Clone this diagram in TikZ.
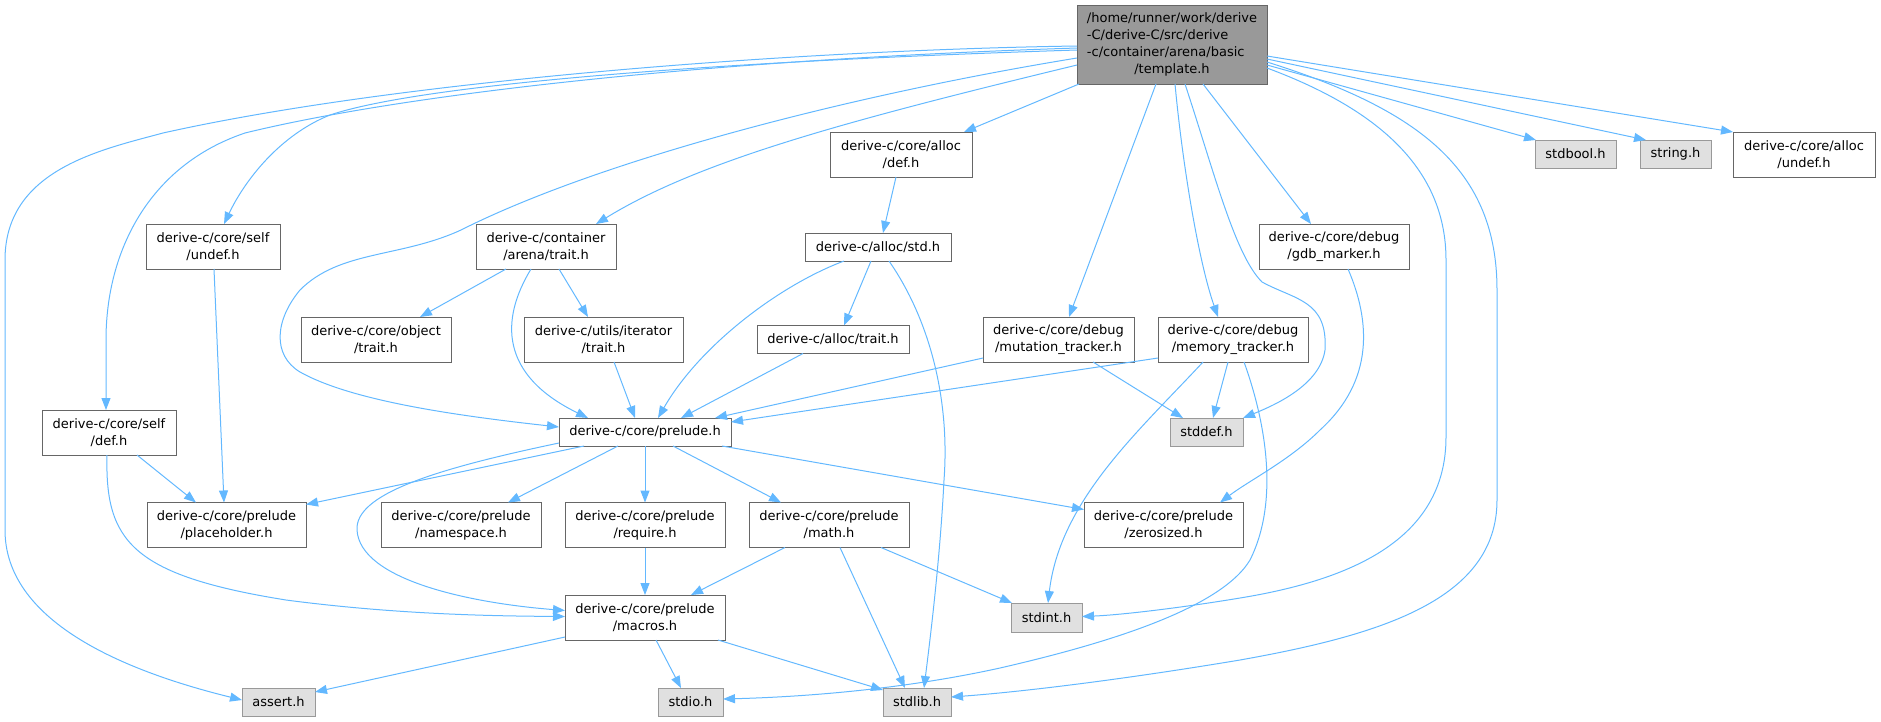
\documentclass[tikz,border=0pt]{standalone}
\usepackage{fontspec}
\setmainfont{DejaVu Sans}
\usetikzlibrary{arrows.meta,calc}
\definecolor{edgec}{HTML}{63B8FF}
\definecolor{bord}{HTML}{666666}
\definecolor{sysfill}{HTML}{E0E0E0}
\definecolor{sysbord}{HTML}{999999}
\definecolor{mainfill}{HTML}{999999}
\tikzset{
  box/.style={draw=bord, line width=1pt, fill=white, inner sep=0pt, outer sep=0pt,
    align=center, font=\fontsize{13}{17}\selectfont},
  sysbox/.style={box, draw=sysbord, fill=sysfill},
  mainbox/.style={box, fill=mainfill},
  edge/.style={draw=edgec, line width=1pt, -{Triangle[length=12pt,width=9pt]}},
}
\begin{document}
\begin{tikzpicture}[x=1pt,y=-1pt]
\useasboundingbox (0,0) rectangle (1881,721);
% nodes
\node[mainbox, minimum width=190pt, minimum height=79pt] (T) at (1172,44.5)
  {\begin{tabular}{@{}l@{}}/home/runner/work/derive\\-C/derive-C/src/derive\\-c/container/arena/basic\\\multicolumn{1}{@{}c@{}}{/template.h}\end{tabular}};
\node[box, minimum width=142pt, minimum height=45pt] (adef) at (901,154.5) {derive-c/core/alloc\\/def.h};
\node[box, minimum width=146pt, minimum height=28pt] (astd) at (878,247) {derive-c/alloc/std.h};
\node[box, minimum width=152pt, minimum height=28pt] (atrait) at (833,339.5) {derive-c/alloc/trait.h};
\node[box, minimum width=151pt, minimum height=45pt] (mutation) at (1058.5,339.5) {derive-c/core/debug\\/mutation\_tracker.h};
\node[box, minimum width=150pt, minimum height=45pt] (memory) at (1233,339.5) {derive-c/core/debug\\/memory\_tracker.h};
\node[box, minimum width=150pt, minimum height=45pt] (gdb) at (1334,246.5) {derive-c/core/debug\\/gdb\_marker.h};
\node[sysbox, minimum width=81pt, minimum height=28pt] (stdbool) at (1575.5,154) {stdbool.h};
\node[sysbox, minimum width=71pt, minimum height=28pt] (string) at (1675.5,154) {string.h};
\node[box, minimum width=142pt, minimum height=45pt] (aundef) at (1804,154.5) {derive-c/core/alloc\\/undef.h};
\node[box, minimum width=134pt, minimum height=45pt] (sundef) at (213,246.5) {derive-c/core/self\\/undef.h};
\node[box, minimum width=140pt, minimum height=45pt] (arena) at (546,246.5) {derive-c/container\\/arena/trait.h};
\node[box, minimum width=150pt, minimum height=45pt] (object) at (376,339.5) {derive-c/core/object\\/trait.h};
\node[box, minimum width=159pt, minimum height=45pt] (iter) at (603.5,339.5) {derive-c/utils/iterator\\/trait.h};
\node[box, minimum width=134pt, minimum height=45pt] (sdef) at (109,432.5) {derive-c/core/self\\/def.h};
\node[box, minimum width=172pt, minimum height=28pt] (prelude) at (645,432) {derive-c/core/prelude.h};
\node[sysbox, minimum width=73pt, minimum height=28pt] (stddef) at (1206.5,432) {stddef.h};
\node[box, minimum width=159pt, minimum height=45pt] (placeholder) at (226.5,525) {derive-c/core/prelude\\/placeholder.h};
\node[box, minimum width=160pt, minimum height=45pt] (namespace) at (461,525) {derive-c/core/prelude\\/namespace.h};
\node[box, minimum width=160pt, minimum height=45pt] (require) at (645,525) {derive-c/core/prelude\\/require.h};
\node[box, minimum width=160pt, minimum height=45pt] (math) at (829,525) {derive-c/core/prelude\\/math.h};
\node[box, minimum width=159pt, minimum height=45pt] (zerosized) at (1163.5,525) {derive-c/core/prelude\\/zerosized.h};
\node[box, minimum width=160pt, minimum height=45pt] (macros) at (645,617.5) {derive-c/core/prelude\\/macros.h};
\node[sysbox, minimum width=71pt, minimum height=29pt] (stdint) at (1046.5,617.5) {stdint.h};
\node[sysbox, minimum width=73pt, minimum height=28pt] (assert) at (278.5,702) {assert.h};
\node[sysbox, minimum width=65pt, minimum height=28pt] (stdio) at (690.5,702) {stdio.h};
\node[sysbox, minimum width=68pt, minimum height=28pt] (stdlib) at (917,702) {stdlib.h};
% edges from the main node
\draw[edge] ($(T.south west)+(2,0)$) -- ($(adef.north west)+(134,0)$);
\draw[edge] ($(T.south west)+(79,0)$) -- ($(mutation.north west)+(86,0)$);
\draw[edge] ($(T.south west)+(98,0)$) .. controls (1182,160) and (1198,260) .. ($(memory.north west)+(60,0)$);
\draw[edge] ($(T.south west)+(108,0)$) .. controls (1215,175) and (1235,255) .. (1262,282) .. controls (1295,300) and (1328,300) .. (1325,350) .. controls (1320,385) and (1275,405) .. (stddef.north east);
\draw[edge] ($(T.south west)+(126,0)$) -- ($(gdb.north west)+(52,0)$);
\draw[edge] ($(T.north east)+(0,60)$) -- ($(stdbool.north west)+(1,0)$);
\draw[edge] ($(T.north east)+(0,54)$) -- ($(string.north west)+(6,0)$);
\draw[edge] ($(T.north east)+(0,51)$) -- (aundef.north west);
\draw[edge] ($(T.north east)+(0,63)$) .. controls (1380,110) and (1446,170) .. (1446,260) -- (1446,437) .. controls (1446,540) and (1350,580) .. (1240,598) .. controls (1180,608) and (1120,615) .. ($(stdint.east)+(0,-1)$);
\draw[edge] ($(T.north east)+(0,57)$) .. controls (1420,110) and (1497,170) .. (1497,290) -- (1497,500) .. controls (1497,600) and (1380,635) .. (1240,660) .. controls (1120,680) and (1020,692) .. ($(stdlib.east)+(0,-5)$);
\draw[edge] ($(T.north west)+(0,41)$) .. controls (800,50) and (400,80) .. (163,133) .. controls (100,150) and (5,170) .. (5,260) -- (5,530) .. controls (5,620) and (120,670) .. ($(assert.west)+(0,-2)$);
\draw[edge] ($(T.north west)+(0,43)$) .. controls (700,60) and (400,95) .. (245,133) .. controls (150,165) and (106,250) .. (106,340) -- ($(sdef.north west)+(64,0)$);
\draw[edge] ($(T.north west)+(0,45)$) .. controls (700,62) and (420,85) .. (330,115) .. controls (280,135) and (245,180) .. ($(sundef.north west)+(78,0)$);
\draw[edge] ($(T.north west)+(0,53)$) .. controls (850,95) and (600,160) .. (461,230) .. controls (400,258) and (340,250) .. (300,290) .. controls (275,320) and (272,355) .. (300,372) .. controls (350,400) and (450,415) .. ($(prelude.west)+(0,-5)$);
\draw[edge] ($(T.north west)+(0,60)$) .. controls (850,120) and (700,160) .. ($(arena.north west)+(120,0)$);
% other edges
\draw[edge] ($(adef.south west)+(66,0)$) -- ($(astd.north west)+(78,0)$);
\draw[edge] ($(astd.south west)+(39,0)$) .. controls (780,285) and (700,345) .. ($(prelude.north west)+(99,0)$);
\draw[edge] ($(astd.south west)+(66,0)$) -- ($(atrait.north west)+(87,0)$);
\draw[edge] ($(astd.south west)+(84,0)$) .. controls (930,320) and (950,400) .. (944,480) .. controls (940,560) and (930,640) .. ($(stdlib.north west)+(41,0)$);
\draw[edge] ($(atrait.south west)+(46,0)$) -- ($(prelude.north west)+(122,0)$);
\draw[edge] ($(arena.south west)+(30,0)$) -- ($(object.north west)+(119,0)$);
\draw[edge] ($(arena.south west)+(83,0)$) -- ($(iter.north west)+(64,0)$);
\draw[edge] ($(arena.south west)+(55,0)$) .. controls (500,320) and (500,375) .. ($(prelude.north west)+(29,0)$);
\draw[edge] ($(iter.south west)+(90,0)$) -- ($(prelude.north west)+(76,0)$);
\draw[edge] ($(sundef.south west)+(68,0)$) -- ($(placeholder.north west)+(77,0)$);
\draw[edge] ($(sdef.south west)+(95,0)$) -- ($(placeholder.north west)+(49,0)$);
\draw[edge] ($(sdef.south west)+(65,0)$) .. controls (105,540) and (130,575) .. (286,600) .. controls (400,615) and (500,616) .. ($(macros.west)+(0,-1)$);
\draw[edge] ($(prelude.south west)+(25,0)$) -- ($(placeholder.north east)+(0,2)$);
\draw[edge] ($(prelude.west)+(0,11)$) .. controls (430,470) and (355,495) .. (357,530) .. controls (360,580) and (470,603) .. ($(macros.west)+(0,-7)$);
\draw[edge] ($(prelude.south west)+(59,0)$) -- ($(namespace.north west)+(127,0)$);
\draw[edge] (prelude.south) -- (require.north);
\draw[edge] ($(prelude.south west)+(114,0)$) -- ($(math.north west)+(32,0)$);
\draw[edge] ($(prelude.south west)+(163,0)$) -- ($(zerosized.north west)+(0,7)$);
\draw[edge] (require.south) -- (macros.north);
\draw[edge] ($(math.south west)+(36,0)$) -- ($(macros.north west)+(126,0)$);
\draw[edge] ($(math.south west)+(91,0)$) -- ($(stdlib.north west)+(22,0)$);
\draw[edge] ($(math.south west)+(132,0)$) -- ($(stdint.north west)+(1,0)$);
\draw[edge] ($(macros.south west)+(0,-3)$) -- ($(assert.north east)+(0,4)$);
\draw[edge] ($(macros.south west)+(91,0)$) -- ($(stdio.north west)+(23,0)$);
\draw[edge] ($(macros.south west)+(153,0)$) -- ($(stdlib.north west)+(0,2)$);
\draw[edge] ($(mutation.south west)+(0,-4)$) -- ($(prelude.north east)+(-16,0)$);
\draw[edge] ($(memory.south west)+(0,-4)$) -- ($(prelude.north east)+(0,4)$);
\draw[edge] ($(mutation.south west)+(110,0)$) -- ($(stddef.north west)+(13,0)$);
\draw[edge] ($(memory.south west)+(70,0)$) -- ($(stddef.north west)+(43,0)$);
\draw[edge] ($(memory.south west)+(45,0)$) .. controls (1140,430) and (1060,500) .. ($(stdint.north west)+(37,0)$);
\draw[edge] ($(memory.south west)+(86,0)$) .. controls (1265,420) and (1280,500) .. (1250,560) .. controls (1220,610) and (1100,645) .. (1000,668) .. controls (900,690) and (800,697) .. ($(stdio.east)+(0,-3)$);
\draw[edge] ($(gdb.south west)+(89,0)$) .. controls (1370,320) and (1375,380) .. (1320,430) .. controls (1290,460) and (1250,480) .. ($(zerosized.north west)+(136,0)$);
\end{tikzpicture}
\end{document}
